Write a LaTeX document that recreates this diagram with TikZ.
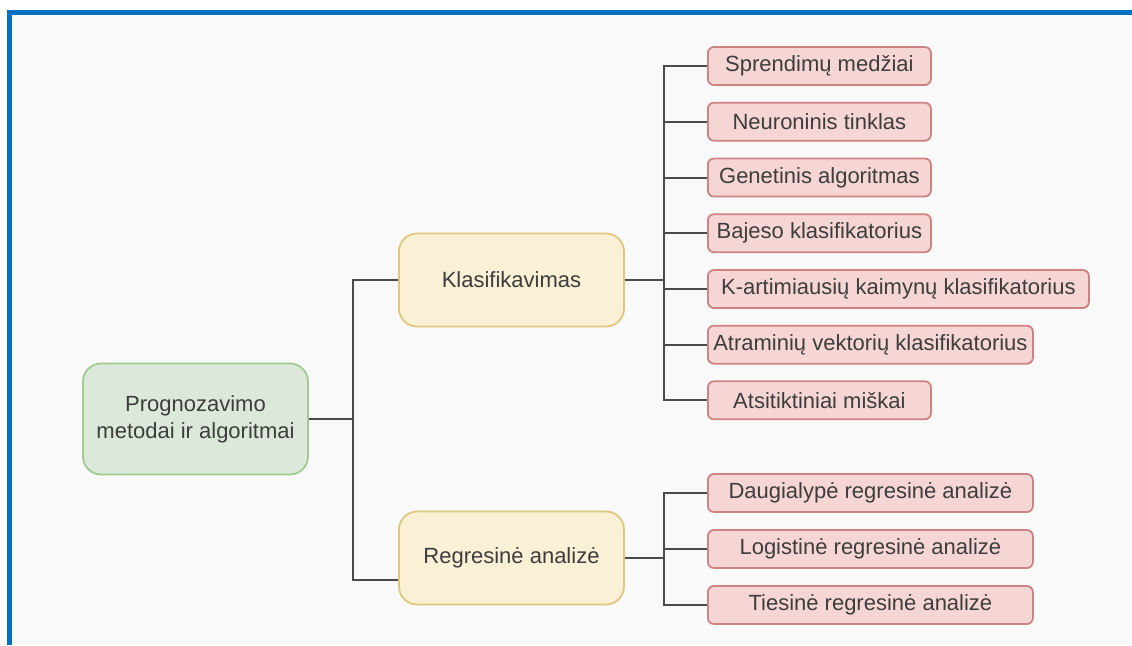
\documentclass[tikz,border=0pt]{standalone}
\usepackage{fontspec}
\setmainfont{Liberation Sans}
\usepackage{xcolor}
\usepackage{tikz}
\usetikzlibrary{positioning}
\definecolor{framex}{HTML}{0071C1}
\definecolor{paper}{HTML}{F9F9F9}
\definecolor{greenfill}{HTML}{DCE9DA}
\definecolor{greenline}{HTML}{A0CB90}
\definecolor{yelfill}{HTML}{FAF0D6}
\definecolor{yelline}{HTML}{DFC77E}
\definecolor{redfill}{HTML}{F6D6D5}
\definecolor{redline}{HTML}{CD8381}
\definecolor{inkx}{HTML}{3D3D3D}
\definecolor{wire}{HTML}{4A4A4A}
\tikzset{
  rootbox/.style={draw=greenline,line width=0.9pt,fill=greenfill,rounded corners=9pt,align=center,
    minimum width=112.5pt,minimum height=55.5pt,inner sep=2pt,text=inkx,font=\fontsize{11}{13.5}\selectfont},
  midbox/.style={draw=yelline,line width=0.9pt,fill=yelfill,rounded corners=9pt,align=center,
    minimum width=112.5pt,minimum height=46.5pt,inner sep=2pt,text=inkx,font=\fontsize{11}{13.5}\selectfont},
  leaf/.style={draw=redline,line width=0.9pt,fill=redfill,rounded corners=3pt,align=center,
    minimum height=19pt,inner sep=1pt,anchor=west,text=inkx,font=\fontsize{11}{13.5}\selectfont},
  ln/.style={draw=wire,line width=1pt}
}

\begin{document}
\begin{tikzpicture}[x=0.5pt,y=-0.5pt]
\useasboundingbox (0,0) rectangle (1132,645);
\fill[white] (0,0) rectangle (1132,645);
\fill[paper] (9,13) rectangle (1132,645);
\draw[framex,line width=2.5pt] (9,645) -- (9,12.5) -- (1132,12.5);
% main boxes
\node[rootbox] (root) at (195.5,419) {Prognozavimo\\metodai ir algoritmai};
\node[midbox] (klas) at (511.5,280) {Klasifikavimas};
\node[midbox] (regr) at (511.5,558) {Regresinė analizė};
% classification leaves
\node[leaf,minimum width=111.5pt] (sm) at (707,66) {Sprendimų medžiai};
\node[leaf,minimum width=111.5pt] (nt) at (707,121.7) {Neuroninis tinklas};
\node[leaf,minimum width=111.5pt] (ga) at (707,177.5) {Genetinis algoritmas};
\node[leaf,minimum width=111.5pt] (bk) at (707,233.2) {Bajeso klasifikatorius};
\node[leaf,minimum width=190.5pt] (ka) at (707,289) {K-artimiausių kaimynų klasifikatorius};
\node[leaf,minimum width=162.5pt] (av) at (707,344.7) {Atraminių vektorių klasifikatorius};
\node[leaf,minimum width=111.5pt] (am) at (707,400.3) {Atsitiktiniai miškai};
% regression leaves
\node[leaf,minimum width=162.5pt] (dr) at (707,493) {Daugialypė regresinė analizė};
\node[leaf,minimum width=162.5pt] (lr) at (707,549) {Logistinė regresinė analizė};
\node[leaf,minimum width=162.5pt] (tr) at (707,605) {Tiesinė regresinė analizė};
% connectors
\coordinate (rt) at (353,419);
\coordinate (kt) at (664,280);
\coordinate (gt) at (664,558);
\draw[ln] (root.east) -- (rt) |- (klas.west);
\draw[ln] (root.east) -- (rt) |- ([yshift=-11pt]regr.west);
\foreach \n in {sm,nt,ga,bk,ka,av,am}
  \draw[ln] (klas.east) -- (kt) |- (\n.west);
\foreach \n in {dr,lr,tr}
  \draw[ln] (regr.east) -- (gt) |- (\n.west);
\end{tikzpicture}
\end{document}
